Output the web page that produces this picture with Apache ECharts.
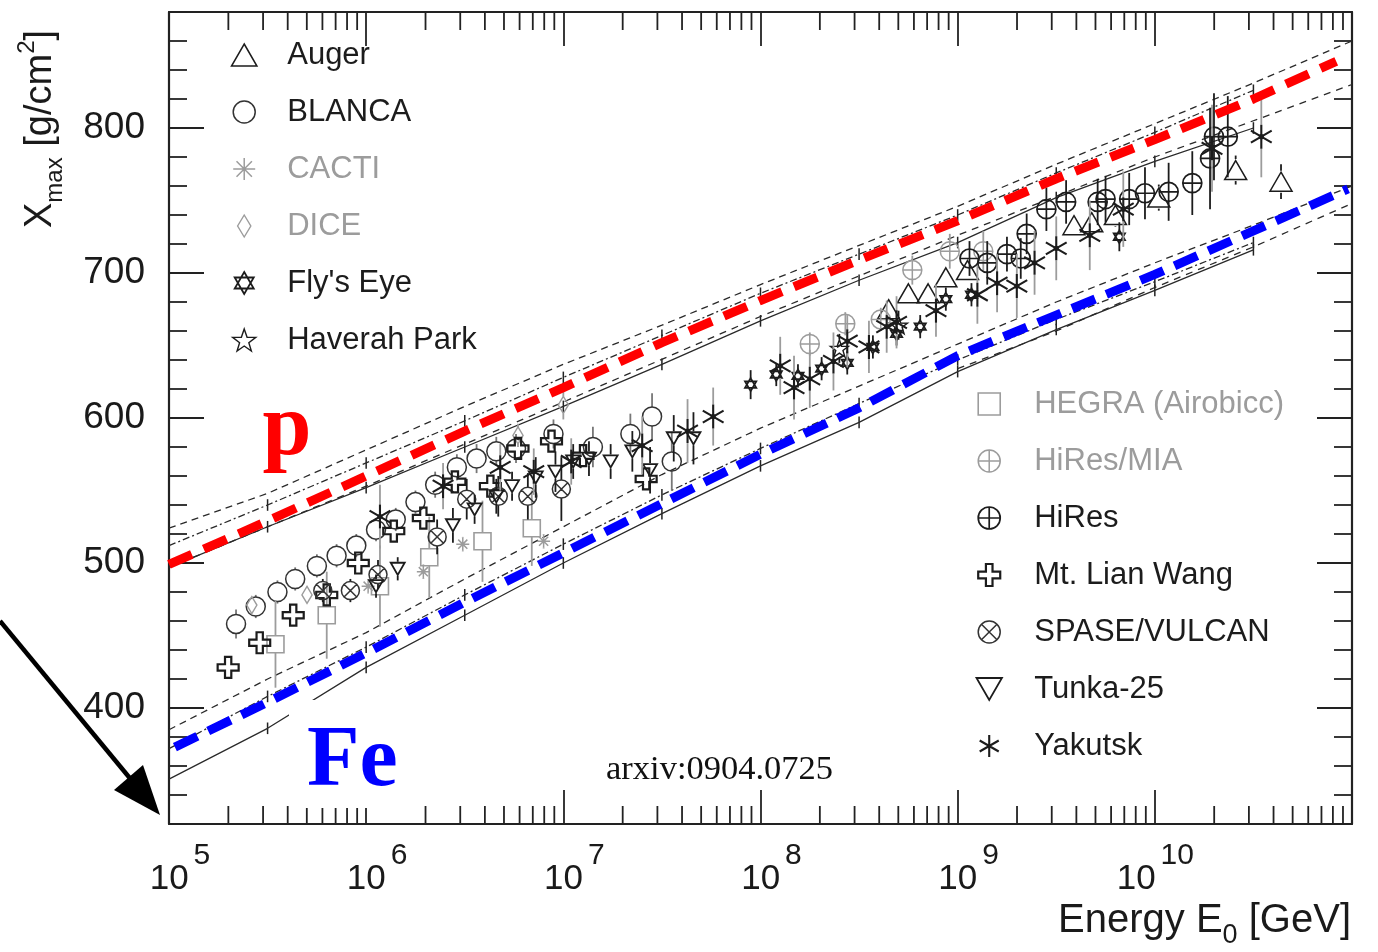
<!DOCTYPE html>
<html>
<head>
<meta charset="utf-8">
<title>Xmax vs primary energy</title>
<script src="https://cdn.jsdelivr.net/npm/echarts@6/dist/echarts.min.js"></script>
<style>
  html, body { margin: 0; padding: 0; background: #ffffff; }
  #chart { width: 1378px; height: 952px; }
</style>
</head>
<body>
<div id="chart"></div>
<script>
// x values are log10(E0 / GeV), y values are Xmax in g/cm^2
const X_DECADES = [5, 6, 7, 8, 9, 10, 11];
const Y_MAJOR = [400, 500, 600, 700, 800];

// Measurements: [log10 E0, Xmax, error]
const auger = [[8.65,675,6],[8.75,686,6],[8.85,686,6],[8.94,697,6],[9.05,702,6],[9.59,733,7],[9.68,735,7],[9.80,740,8],[10.02,752,9],[10.41,771,10],[10.64,763,12]];
const blanca = [[5.34,458,10],[5.44,470,8],[5.55,480,8],[5.64,489,8],[5.75,498,8],[5.85,505,8],[5.95,512,8],[6.05,523,8],[6.15,530,8],[6.25,542,8],[6.35,554,9],[6.46,566,9],[6.56,572,10],[6.66,577,10],[6.76,579,10],[6.95,589,10],[7.15,580,14],[7.34,589,14],[7.45,601,16],[7.55,570,20]];
const cacti = [[6.01,484,5],[6.29,494,5],[6.49,513,5],[6.90,515,5]];
const dice = [[5.42,471,6],[5.70,478,6],[6.77,588,8],[7.00,609,10]];
const flysEye = [[7.95,623,10],[8.08,630,8],[8.19,629,8],[8.31,634,8],[8.44,638,8],[8.57,649,8],[8.69,658,8],[8.81,663,8],[8.94,682,8],[9.07,685,8],[9.82,725,10]];
const haverahPark = [[8.40,648,10],[8.70,664,10]];
const hegra = [[5.54,444,30],[5.80,464,30],[6.07,484,28],[6.32,504,28],[6.59,515,28],[6.84,524,26]];
const hiresMia = [[8.25,651,8],[8.43,665,8],[8.61,668,8],[8.77,702,10],[8.96,715,12],[9.13,715,14]];
const hires = [[9.06,710,12],[9.15,707,15],[9.25,713,12],[9.32,710,14],[9.35,727,14],[9.45,744,15],[9.55,749,15],[9.71,749,16],[9.75,751,16],[9.87,751,18],[9.95,755,18],[10.07,756,20],[10.19,762,22],[10.28,779,35],[10.30,794,30],[10.37,794,28]];
const mtLianWang = [[5.30,428,4],[5.46,445,4],[5.63,464,4],[5.80,478,4],[5.96,500,4],[6.14,522,4],[6.29,531,4],[6.45,556,5],[6.63,553,5],[6.77,579,5],[6.94,584,5],[7.10,574,5],[7.42,558,6]];
const spaseVulcan = [[5.78,481,8],[5.92,481,8],[6.06,492,10],[6.36,518,12],[6.51,544,14],[6.67,546,14],[6.82,546,16],[6.99,551,22]];
const tunka25 = [[6.05,484,8],[6.16,496,8],[6.44,526,12],[6.55,537,10],[6.66,546,12],[6.74,553,10],[6.86,559,14],[6.96,563,14],[7.05,570,12],[7.13,572,12],[7.24,570,12],[7.35,577,14],[7.44,564,16],[7.56,586,16],[7.66,586,18]];
const yakutsk = [[6.07,532,22],[6.39,553,16],[6.68,566,16],[6.85,563,16],[7.04,570,16],[7.40,581,20],[7.63,591,22],[7.76,601,20],[8.10,636,20],[8.17,621,22],[8.25,627,20],[8.37,639,20],[8.44,653,18],[8.55,649,18],[8.64,663,18],[8.69,666,18],[8.89,674,18],[9.10,685,20],[9.20,693,20],[9.30,691,22],[9.39,707,22],[9.50,717,22],[9.67,726,24],[9.84,744,26],[10.29,786,30],[10.54,794,28]];

// Model predictions: [log10 E0, Xmax]
const pUpperDashed = [[5,524],[5.5,548],[6,578],[6.5,608],[7,637],[7.5,664],[8,692],[8.5,719],[9,746],[9.5,775],[10,803],[10.5,831],[11,860]];
const pDashDot = [[5,512],[5.5,540],[6,569],[6.5,598],[7,628],[7.5,657],[8,686],[8.5,713],[9,740],[9.5,769],[10,797],[10.5,826]];
const pLowerDashed = [[5,497],[6,553],[7,611],[8,670],[9,726],[10,780],[11,830]];
const pSolid = [[5,497],[5.5,525],[6,552],[6.5,580],[7,608],[7.5,637],[8,667],[8.5,695],[9,721],[9.5,752],[10,777],[10.5,800]];
const feUpperDashed = [[5,385],[5.5,420],[6,452],[6.5,489],[7,525],[7.5,561],[8,593],[8.5,622],[9,651],[9.5,680],[10,707],[10.5,733],[11,760]];
const feDashDot = [[5,372],[5.5,408],[6,442],[6.5,478],[7,513],[7.5,547],[8,579],[8.5,610],[9,640],[9.5,668],[10,694],[10.5,721]];
const feLowerDashed = [[9,634],[9.5,660],[10,690],[10.5,718],[11,748]];
const feSolid = [[5,351],[5.5,386],[6,428],[6.5,464],[7,500],[7.5,534],[8,567],[8.5,597],[9,632],[9.5,661],[10,688],[10.5,716]];
const protonLine = [[5.0,499],[5.5,529],[6,560],[6.5,591],[7,621],[7.5,652],[8,681],[8.5,709],[9,736],[9.5,765],[10,792],[10.5,820],[10.92,846]];
const ironLine = [[5.03,373],[5.5,404],[6,438],[6.5,473],[7,507],[7.5,541],[8,575],[8.5,607],[9,643],[9.5,671],[10,699],[10.5,729],[10.98,758]];

// Marker outlines (SVG path data, fitted into the marker box)
const SYM = {
  triUp: 'M10,0 L20,17.3 L0,17.3 Z',
  triDown: 'M0,0 L20,0 L10,17.3 Z',
  circle: 'M0,10 A10,10 0 1,1 20,10 A10,10 0 1,1 0,10 Z',
  circlePlus: 'M0,10 A10,10 0 1,1 20,10 A10,10 0 1,1 0,10 Z M10,0 L10,20 M0,10 L20,10',
  circleX: 'M0,10 A10,10 0 1,1 20,10 A10,10 0 1,1 0,10 Z M2.93,2.93 L17.07,17.07 M17.07,2.93 L2.93,17.07',
  star8: 'M10,0 L10,20 M0,10 L20,10 M3,3 L17,17 M17,3 L3,17',
  diamond: 'M6,0 L12,10 L6,20 L0,10 Z',
  hexagram: 'M10,0 L18.66,15 L1.34,15 Z M10,20 L1.34,5 L18.66,5 Z',
  star5: 'M10,0 L12.35,6.76 L19.51,6.91 L13.8,11.24 L15.88,18.09 L10,14 L4.12,18.09 L6.2,11.24 L0.49,6.91 L7.65,6.76 Z',
  square: 'M0,0 L20,0 L20,20 L0,20 Z',
  openCross: 'M7,0 L13,0 L13,7 L20,7 L20,13 L13,13 L13,20 L7,20 L7,13 L0,13 L0,7 L7,7 Z',
  asterisk6: 'M10,0 L10,20 M1.34,5 L18.66,15 M18.66,5 L1.34,15'
};

const BLACK = '#1c1c1c';
const GRAY = '#9c9c9c';
const FONT = '"Liberation Sans", Arial, Helvetica, sans-serif';
const SERIF = '"Liberation Serif", "Times New Roman", serif';

const experiments = [
  { name: 'Auger', data: auger, sym: 'triUp', size: 22, color: BLACK, err: BLACK, lw: 1.5, text: BLACK },
  { name: 'BLANCA', data: blanca, sym: 'circle', size: 19, color: '#333', err: '#777', lw: 1.5, text: BLACK },
  { name: 'CACTI', data: cacti, sym: 'star8', size: 13, color: GRAY, err: GRAY, lw: 1.5, text: GRAY },
  { name: 'DICE', data: dice, sym: 'diamond', size: 17, color: GRAY, err: GRAY, lw: 1.4, text: GRAY },
  { name: "Fly's Eye", data: flysEye, sym: 'hexagram', size: 13, color: BLACK, err: BLACK, lw: 1.8, text: BLACK },
  { name: 'Haverah Park', data: haverahPark, sym: 'star5', size: 18, color: BLACK, err: BLACK, lw: 1.4, text: BLACK },
  { name: 'HEGRA (Airobicc)', data: hegra, sym: 'square', size: 17, color: GRAY, err: GRAY, lw: 1.6, text: GRAY },
  { name: 'HiRes/MIA', data: hiresMia, sym: 'circlePlus', size: 19, color: GRAY, err: GRAY, lw: 1.5, text: GRAY },
  { name: 'HiRes', data: hires, sym: 'circlePlus', size: 19, color: BLACK, err: BLACK, lw: 1.7, text: BLACK },
  { name: 'Mt. Lian Wang', data: mtLianWang, sym: 'openCross', size: 21, color: BLACK, err: BLACK, lw: 2.2, text: BLACK },
  { name: 'SPASE/VULCAN', data: spaseVulcan, sym: 'circleX', size: 18, color: '#333', err: BLACK, lw: 1.5, text: BLACK },
  { name: 'Tunka-25', data: tunka25, sym: 'triDown', size: 14, color: BLACK, err: BLACK, lw: 1.8, text: BLACK },
  { name: 'Yakutsk', data: yakutsk, sym: 'asterisk6', size: 24, color: BLACK, err: GRAY, lw: 2.1, text: BLACK, dot: true }
];

function experimentSeries(exp) {
  return {
    type: 'custom',
    name: exp.name,
    data: exp.data,
    encode: { x: 0, y: 1 },
    z: 4,
    silent: true,
    renderItem: function (params, api) {
      const lg = api.value(0), xm = api.value(1), e = api.value(2);
      const c = api.coord([lg, xm]);
      const hi = api.coord([lg, xm + e]);
      const lo = api.coord([lg, xm - e]);
      const r = exp.size / 2;
      const children = [];
      const errStyle = { stroke: exp.err, lineWidth: 1.8 };
      if (hi[1] < c[1] - r) {
        children.push({ type: 'line', shape: { x1: c[0], y1: hi[1], x2: c[0], y2: c[1] - r }, style: errStyle });
      }
      if (lo[1] > c[1] + r) {
        children.push({ type: 'line', shape: { x1: c[0], y1: c[1] + r, x2: c[0], y2: lo[1] }, style: errStyle });
      }
      children.push({
        type: 'path',
        shape: { pathData: SYM[exp.sym], x: c[0] - r, y: c[1] - r, width: exp.size, height: exp.size, layout: 'center' },
        style: { fill: 'none', stroke: exp.color, lineWidth: exp.lw }
      });
      if (exp.dot) {
        children.push({ type: 'circle', shape: { cx: c[0], cy: c[1], r: 2.6 }, style: { fill: exp.color } });
      }
      return { type: 'group', children: children };
    }
  };
}

function modelLine(data, dash, z) {
  return {
    type: 'line', data: data, showSymbol: false, symbol: 'none', silent: true, z: z || 2,
    lineStyle: { color: '#2a2a2a', width: 1.3, type: dash }
  };
}

// small vertical uncertainty marks carried by some model curves
const modelMarks = [].concat(pDashDot, pSolid, feDashDot, feSolid).filter(function (p) { return p[0] > 5.2; });

// minor ticks of the logarithmic energy axis (2..9 x 10^n) and long Xmax ticks
const frameTicks = [];
for (let d = 5; d < 11; d++) {
  for (let k = 2; k <= 9; k++) frameTicks.push([0, d + Math.log10(k)]);
}
Y_MAJOR.forEach(function (v) { frameTicks.push([1, v]); });

const TICK = { stroke: '#222', lineWidth: 1.8 };

const legendLeft = ['Auger', 'BLANCA', 'CACTI', 'DICE', "Fly's Eye", 'Haverah Park'];
const legendRight = ['HEGRA (Airobicc)', 'HiRes/MIA', 'HiRes', 'Mt. Lian Wang', 'SPASE/VULCAN', 'Tunka-25', 'Yakutsk'];

function legendItems(names) {
  return names.map(function (n) {
    const exp = experiments.find(function (e) { return e.name === n; });
    return {
      name: n,
      icon: 'path://' + SYM[exp.sym],
      itemStyle: { color: 'none', borderColor: exp.color, borderWidth: exp.lw },
      textStyle: { color: exp.text }
    };
  });
}

function legendBlock(names, left, top, itemWidth) {
  return {
    orient: 'vertical', left: left, top: top, padding: 0,
    itemWidth: itemWidth, itemHeight: 22, itemGap: 26,
    textStyle: { fontSize: 31, lineHeight: 31, fontFamily: FONT },
    data: legendItems(names)
  };
}

const axisCommon = {
  axisLine: { show: true, onZero: false, lineStyle: { color: '#222', width: 2.2 } },
  splitLine: { show: false }
};

const chart = echarts.init(document.getElementById('chart'), null, { renderer: 'canvas' });

chart.setOption({
  animation: false,
  backgroundColor: '#ffffff',
  grid: { left: 169, right: 26, top: 12, bottom: 128 },
  xAxis: [
    Object.assign({
      type: 'value', min: 5, max: 11, interval: 1, position: 'bottom',
      axisTick: { inside: true, length: 34, lineStyle: { color: '#222', width: 1.8 } },
      axisLabel: {
        margin: 17, showMaxLabel: false,
        formatter: function (v) {
          return v >= 10 ? '{t|}{b|10}{s|' + v + '}' : '{sp|}{b|10}{s|' + v + '}';
        },
        rich: {
          sp: { width: 22, lineHeight: 56 },
          t: { width: 1, lineHeight: 56 },
          b: { fontSize: 35, fontFamily: FONT, color: '#1a1a1a', verticalAlign: 'bottom', lineHeight: 30 },
          s: { fontSize: 30, fontFamily: FONT, color: '#1a1a1a', verticalAlign: 'top', lineHeight: 28, padding: [0, 0, 0, 5] }
        }
      }
    }, axisCommon),
    Object.assign({
      type: 'value', min: 5, max: 11, interval: 1, position: 'top',
      axisTick: { inside: true, length: 34, lineStyle: { color: '#222', width: 1.8 } },
      axisLabel: { show: false }
    }, axisCommon)
  ],
  yAxis: [
    Object.assign({
      type: 'value', min: 320, max: 880, interval: 20, position: 'left',
      axisTick: { inside: true, length: 18, lineStyle: { color: '#222', width: 1.8 } },
      axisLabel: {
        margin: 24, fontSize: 37, fontFamily: FONT, color: '#1a1a1a',
        formatter: function (v) { return Y_MAJOR.indexOf(v) >= 0 ? String(v) : ''; }
      }
    }, axisCommon),
    Object.assign({
      type: 'value', min: 320, max: 880, interval: 20, position: 'right',
      axisTick: { inside: true, length: 18, lineStyle: { color: '#222', width: 1.8 } },
      axisLabel: { show: false }
    }, axisCommon)
  ],
  legend: [
    legendBlock(legendLeft, 229, 39.5, 76),
    legendBlock(legendRight, 974, 388.5, 80)
  ],
  series: [
    {
      type: 'custom', data: frameTicks, silent: true, z: 1,
      renderItem: function (params, api) {
        const kind = api.value(0), v = api.value(1);
        const cs = params.coordSys;
        if (kind === 0) {
          const px = api.coord([v, 600])[0];
          const yb = cs.y + cs.height, yt = cs.y;
          return { type: 'group', children: [
            { type: 'line', shape: { x1: px, y1: yb, x2: px, y2: yb - 18 }, style: TICK },
            { type: 'line', shape: { x1: px, y1: yt, x2: px, y2: yt + 18 }, style: TICK }
          ] };
        }
        const py = api.coord([8, v])[1];
        const xl = cs.x, xr = cs.x + cs.width;
        return { type: 'group', children: [
          { type: 'line', shape: { x1: xl, y1: py, x2: xl + 35, y2: py }, style: TICK },
          { type: 'line', shape: { x1: xr, y1: py, x2: xr - 35, y2: py }, style: TICK }
        ] };
      }
    },
    modelLine(pUpperDashed, [7, 5]),
    modelLine(pDashDot, [7, 3, 2, 3]),
    modelLine(pLowerDashed, [7, 6]),
    modelLine(pSolid, 'solid'),
    modelLine(feUpperDashed, [7, 5]),
    modelLine(feDashDot, [7, 3, 2, 3]),
    modelLine(feLowerDashed, [7, 6]),
    modelLine(feSolid, 'solid'),
    {
      type: 'custom', data: modelMarks, silent: true, z: 2,
      renderItem: function (params, api) {
        const lg = api.value(0), xm = api.value(1);
        const a = api.coord([lg, xm + 4]), b = api.coord([lg, xm - 4]);
        return { type: 'line', shape: { x1: a[0], y1: a[1], x2: b[0], y2: b[1] }, style: { stroke: '#222', lineWidth: 1.5 } };
      }
    },
    {
      type: 'line', data: protonLine, showSymbol: false, symbol: 'none', silent: true, z: 6,
      lineStyle: { color: '#ff0000', width: 9, type: [25, 13], cap: 'butt' }
    },
    {
      type: 'line', data: ironLine, showSymbol: false, symbol: 'none', silent: true, z: 6,
      lineStyle: { color: '#0000ff', width: 9, type: [25, 12], cap: 'butt' }
    }
  ].concat(experiments.map(experimentSeries)),
  graphic: [
    // panel behind the iron label
    { type: 'rect', z: 3, silent: true, shape: { x: 289, y: 700, width: 116, height: 108 }, style: { fill: '#ffffff' } },
    {
      type: 'text', z: 10, x: 41, y: 228, rotation: Math.PI / 2,
      style: {
        text: '{b|X}{sub|max}{b| [g/cm}{sup|2}{b|]}',
        textAlign: 'left', textVerticalAlign: 'middle',
        rich: {
          b: { fontSize: 38, fontFamily: FONT, fill: '#1a1a1a', color: '#1a1a1a', lineHeight: 52, verticalAlign: 'middle' },
          sub: { fontSize: 24, fontFamily: FONT, fill: '#1a1a1a', color: '#1a1a1a', lineHeight: 24, verticalAlign: 'bottom' },
          sup: { fontSize: 24, fontFamily: FONT, fill: '#1a1a1a', color: '#1a1a1a', lineHeight: 26, verticalAlign: 'top' }
        }
      }
    },
    {
      type: 'text', z: 10, x: 1351, y: 921,
      style: {
        text: '{b|Energy E}{sub|0}{b| [GeV]}',
        textAlign: 'right', textVerticalAlign: 'middle',
        rich: {
          b: { fontSize: 40, fontFamily: FONT, fill: '#1a1a1a', color: '#1a1a1a', lineHeight: 56, verticalAlign: 'middle' },
          sub: { fontSize: 27, fontFamily: FONT, fill: '#1a1a1a', color: '#1a1a1a', lineHeight: 26, verticalAlign: 'bottom' }
        }
      }
    },
    {
      type: 'text', z: 10, x: 287, y: 431,
      style: { text: 'p', font: 'bold 88px ' + SERIF, fill: '#ff0000', textAlign: 'center', textVerticalAlign: 'middle' }
    },
    {
      type: 'text', z: 10, x: 307, y: 763,
      style: { text: 'Fe', font: 'bold 86px ' + SERIF, fill: '#0000ff', textAlign: 'left', textVerticalAlign: 'middle' }
    },
    {
      type: 'text', z: 10, x: 606, y: 770,
      style: { text: 'arxiv:0904.0725', font: '34.5px ' + SERIF, fill: '#111111', textAlign: 'left', textVerticalAlign: 'middle' }
    },
    // arrow pointing at the lower left corner of the panel
    { type: 'line', z: 10, silent: true, shape: { x1: 0, y1: 621, x2: 138, y2: 788 }, style: { stroke: '#000', lineWidth: 4.5 } },
    { type: 'polygon', z: 10, silent: true, shape: { points: [[160, 815], [114, 790], [143, 765]] }, style: { fill: '#000' } }
  ]
});
</script>
</body>
</html>
